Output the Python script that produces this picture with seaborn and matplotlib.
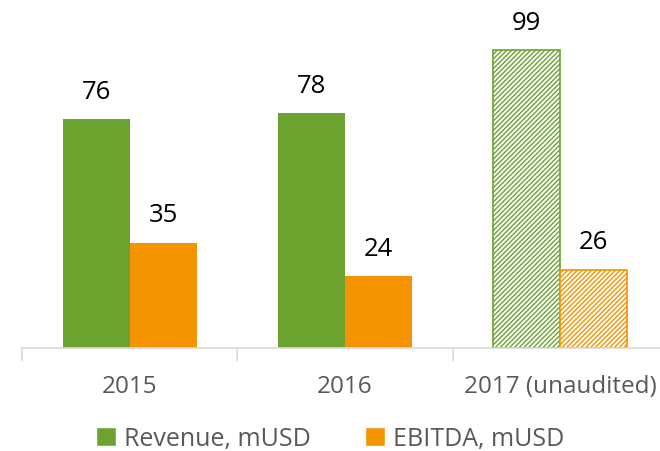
import pandas as pd
import matplotlib
matplotlib.use("Agg")
import matplotlib.pyplot as plt
import seaborn as sns
from matplotlib.patches import Patch

# Datos
years = ["2015", "2016", "2017 (unaudited)"]
revenue = [76, 78, 99]
ebitda = [35, 24, 26]
series = ["Revenue, mUSD", "EBITDA, mUSD"]

df = pd.DataFrame({
    "Year": years * 2,
    "Series": [series[0]] * 3 + [series[1]] * 3,
    "Value": revenue + ebitda,
})

green = "#6CA32F"
orange = "#F39400"

sns.set_style("white")
plt.rcParams["font.family"] = ["Open Sans", "DejaVu Sans"]
plt.rcParams["hatch.linewidth"] = 1.0

fig = plt.figure(figsize=(6.6, 4.52), dpi=100)
ax = fig.add_axes([22 / 660, 103 / 452, 646 / 660, 349 / 452])

sns.barplot(data=df, x="Year", y="Value", hue="Series", order=years,
            hue_order=series, palette=[green, orange], width=0.622,
            saturation=1, ax=ax, legend=False)

# 2017 sin auditar -> barras rayadas
colors = {0: green, 1: orange}
for i, cont in enumerate(ax.containers):
    for j, bar in enumerate(cont):
        bar.set_linewidth(0)
        if j == 2:
            bar.set_facecolor("white")
            bar.set_edgecolor(colors[i])
            bar.set_hatch("///////")
            bar.set_linewidth(1.2)
    ax.bar_label(cont, padding=11, fontsize=18.5, color="black")

ax.set_ylim(0, 116)
ax.set_xlim(-0.5, 2.5)
ax.set_xlabel("")
ax.set_ylabel("")
ax.set_yticks([])
for s in ["top", "right", "left"]:
    ax.spines[s].set_visible(False)
ax.spines["bottom"].set_color("#D9D9D9")
ax.spines["bottom"].set_linewidth(1.2)

ax.set_xticks([-0.5, 0.5, 1.5, 2.5], minor=True)
ax.tick_params(axis="x", which="minor", length=9, width=1.2, color="#D9D9D9", bottom=True)
ax.tick_params(axis="x", which="major", length=0, pad=19, labelsize=17.5, labelcolor="#595959")

handles = [Patch(facecolor=green), Patch(facecolor=orange)]
fig.legend(handles, series, loc="center", bbox_to_anchor=(0.5, 12 / 452), ncol=2,
           frameon=False, fontsize=18, labelcolor="#595959", handlelength=0.8,
           handleheight=0.8, handletextpad=0.3, columnspacing=2.2)

fig.savefig("out.png", dpi=100)
